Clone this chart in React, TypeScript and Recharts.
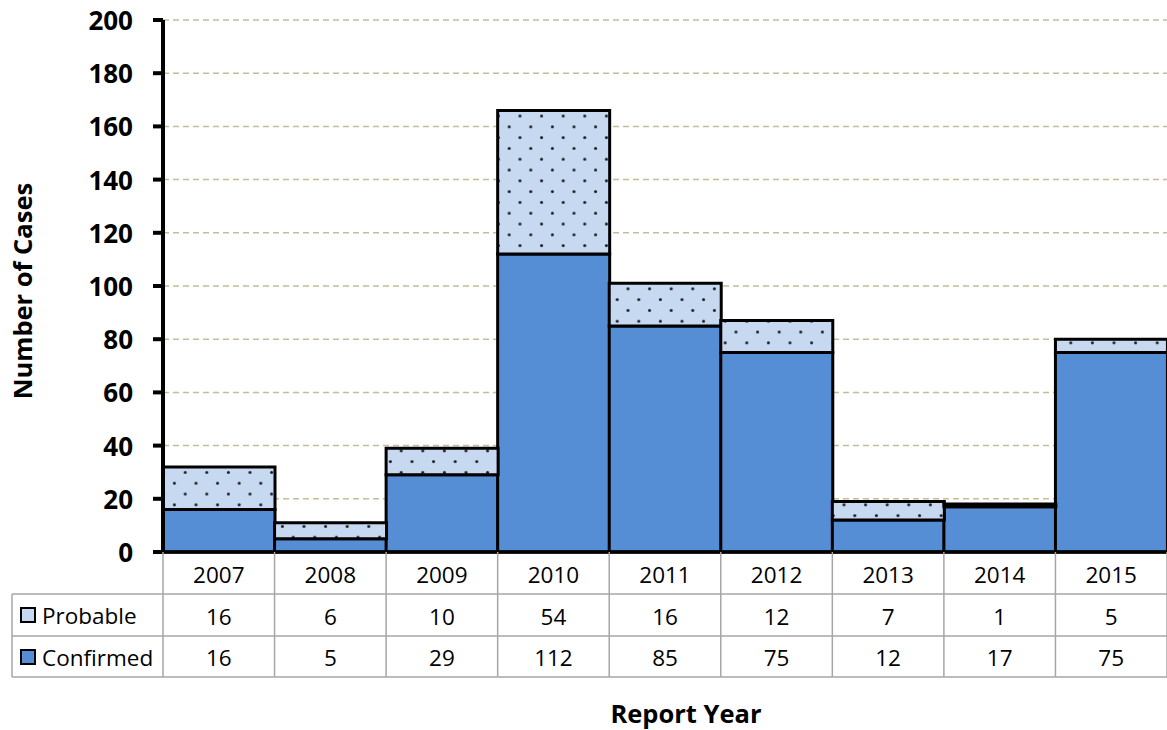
import React from 'react';
import { BarChart, Bar, XAxis, YAxis, CartesianGrid } from 'recharts';

const years = ['2007', '2008', '2009', '2010', '2011', '2012', '2013', '2014', '2015'];
const probable = [16, 6, 10, 54, 16, 12, 7, 1, 5];
const confirmed = [16, 5, 29, 112, 85, 75, 12, 17, 75];
const yTicks = [0, 20, 40, 60, 80, 100, 120, 140, 160, 180, 200];

const data = years.map((year, i) => ({ year, probable: probable[i], confirmed: confirmed[i] }));

const FONT = '"Open Sans", sans-serif';
const GRAY = '#a6a6a6';
const BLUE = '#558ed5';
const LIGHT = '#c6d9f1';
const TFS = 22.5;

const TableTick = (props: any) => {
  const { x, y, payload, index } = props;
  const i = payload?.index ?? index;
  const half = payload?.offset ? payload.offset : 1004 / 18;
  const r1 = y + 42;
  const r2 = y + 84;
  const r3 = y + 125;
  const left = x - half;
  const right = x + half;
  return (
    <g>
      <line x1={left} x2={left} y1={y} y2={r3} stroke={GRAY} strokeWidth={1.5} />
      {i === years.length - 1 && (
        <line x1={right} x2={right} y1={y} y2={r3} stroke={GRAY} strokeWidth={1.5} />
      )}
      <line x1={left} x2={right} y1={r1} y2={r1} stroke={GRAY} strokeWidth={1.5} />
      <line x1={left} x2={right} y1={r2} y2={r2} stroke={GRAY} strokeWidth={1.5} />
      <line x1={left} x2={right} y1={r3} y2={r3} stroke={GRAY} strokeWidth={1.5} />
      <text x={x} y={y + 22} textAnchor="middle" dominantBaseline="central" fontFamily={FONT} fontSize={TFS} fill="#000">
        {years[i]}
      </text>
      <text x={x} y={y + 64} textAnchor="middle" dominantBaseline="central" fontFamily={FONT} fontSize={TFS} fill="#000">
        {probable[i]}
      </text>
      <text x={x} y={y + 105} textAnchor="middle" dominantBaseline="central" fontFamily={FONT} fontSize={TFS} fill="#000">
        {confirmed[i]}
      </text>
      {i === 0 && (
        <g>
          <line x1={12} x2={left} y1={r1} y2={r1} stroke={GRAY} strokeWidth={1.5} />
          <line x1={12} x2={left} y1={r2} y2={r2} stroke={GRAY} strokeWidth={1.5} />
          <line x1={12} x2={left} y1={r3} y2={r3} stroke={GRAY} strokeWidth={1.5} />
          <line x1={12} x2={12} y1={r1} y2={r3} stroke={GRAY} strokeWidth={1.5} />
          <rect x={21} y={r1 + 14} width={14} height={14} fill={LIGHT} stroke="#000" strokeWidth={2} />
          <text x={42} y={r1 + 21} dominantBaseline="central" fontFamily={FONT} fontSize={TFS} fill="#000">
            Probable
          </text>
          <rect x={21} y={r2 + 14} width={14} height={14} fill={BLUE} stroke="#000" strokeWidth={2} />
          <text x={42} y={r2 + 21} dominantBaseline="central" fontFamily={FONT} fontSize={TFS} fill="#000">
            Confirmed
          </text>
        </g>
      )}
    </g>
  );
};

const YTick = (props: any) => {
  const { x, y, payload } = props;
  return (
    <text x={x} y={y} textAnchor="end" dominantBaseline="central" fontFamily={FONT} fontWeight="bold" fontSize={26} fill="#000">
      {payload.value}
    </text>
  );
};

export default function App() {
  return (
    <div style={{ position: 'absolute', left: 0, top: 0, width: 1167, height: 730, background: '#fff' }}>
      <svg width={0} height={0} style={{ position: 'absolute' }}>
        <defs>
          <pattern id="dots" patternUnits="userSpaceOnUse" x={17.8} y={2.6} width={21.6} height={21.6}>
            <rect x={0} y={0} width={21.6} height={21.6} fill={LIGHT} />
            <circle cx={5.4} cy={5.4} r={1.5} fill="#1a1a1a" />
            <circle cx={16.2} cy={16.2} r={1.5} fill="#1a1a1a" />
          </pattern>
        </defs>
      </svg>
      <BarChart
        width={1167}
        height={730}
        data={data}
        margin={{ top: 20, right: 0, bottom: 0, left: 0 }}
        barCategoryGap={0}
        barGap={0}
      >
        <CartesianGrid vertical={false} stroke="#c4bd97" strokeWidth={1.5} strokeDasharray="6 4" />
        <XAxis
          dataKey="year"
          height={178}
          axisLine={{ stroke: '#000', strokeWidth: 3.5 }}
          tickLine={false}
          tickSize={0}
          tickMargin={0}
          interval={0}
          tick={<TableTick />}
        />
        <YAxis
          width={163}
          domain={[0, 200]}
          ticks={yTicks}
          interval={0}
          axisLine={{ stroke: '#000', strokeWidth: 4 }}
          tickLine={{ stroke: '#000', strokeWidth: 4 }}
          tickSize={10}
          tickMargin={20}
          tick={<YTick />}
        />
        <Bar dataKey="confirmed" stackId="a" fill={BLUE} stroke="#000" strokeWidth={3} isAnimationActive={false} />
        <Bar dataKey="probable" stackId="a" fill="url(#dots)" stroke="#000" strokeWidth={3} isAnimationActive={false} />
        <text x={22} y={291} transform="rotate(-90 22 291)" textAnchor="middle" dominantBaseline="central" fontFamily={FONT} fontWeight="bold" fontSize={25.5} fill="#000">
          Number of Cases
        </text>
        <text x={686} y={713} textAnchor="middle" dominantBaseline="central" fontFamily={FONT} fontWeight="bold" fontSize={25.5} fill="#000">
          Report Year
        </text>
      </BarChart>
    </div>
  );
}
